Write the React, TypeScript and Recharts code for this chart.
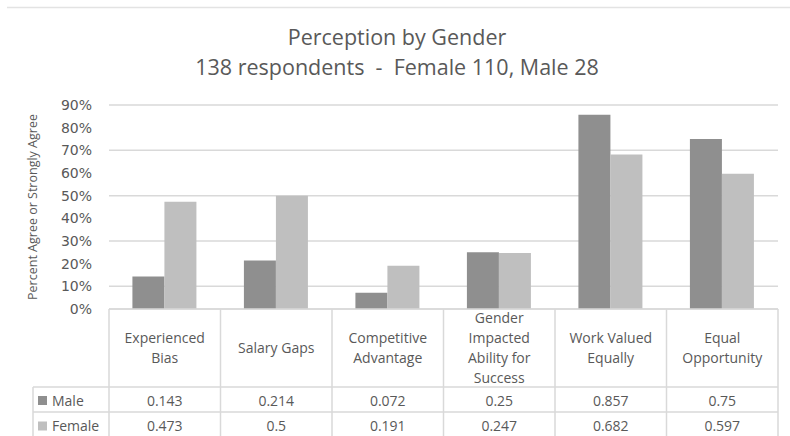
import React from "react";
import { BarChart, Bar, XAxis, YAxis, CartesianGrid } from "recharts";

const CATEGORIES = [
  "Experienced Bias",
  "Salary Gaps",
  "Competitive Advantage",
  "Gender Impacted Ability for Success",
  "Work Valued Equally",
  "Equal Opportunity",
];
const MALE = [0.143, 0.214, 0.072, 0.25, 0.857, 0.75];
const FEMALE = [0.473, 0.5, 0.191, 0.247, 0.682, 0.597];
const Y_TICKS = [0, 0.1, 0.2, 0.3, 0.4, 0.5, 0.6, 0.7, 0.8, 0.9];

const SERIES = [
  { key: "male", name: "Male", color: "#8f8f8f", values: MALE },
  { key: "female", name: "Female", color: "#bfbfbf", values: FEMALE },
];

const TITLE = "Perception by Gender";
const SUBTITLE = "138 respondents  -  Female 110, Male 28";
const Y_LABEL = "Percent Agree or Strongly Agree";

const data = CATEGORIES.map((name, i) => ({
  name,
  male: MALE[i],
  female: FEMALE[i],
}));

// layout
const W = 790;
const H = 436;
const PLOT_LEFT = 109;
const PLOT_RIGHT = 778;
const PLOT_TOP = 105;
const PLOT_BOTTOM = 309;
const BAND = (PLOT_RIGHT - PLOT_LEFT) / CATEGORIES.length;
const ROW1 = 387;
const ROW2 = 412;
const ROW_MID = [401, 426.5];
const LEGEND_LEFT = 33;
const HEADER_MID = 348;
const GRID = "#d9d9d9";
const TEXT = "#595959";
const FONT = "'Open Sans', sans-serif";

function wrap(text: string, max = 11) {
  const out: string[] = [];
  let cur = "";
  for (const w of text.split(" ")) {
    if (!cur) cur = w;
    else if ((cur + " " + w).length <= max) cur += " " + w;
    else {
      out.push(cur);
      cur = w;
    }
  }
  if (cur) out.push(cur);
  return out;
}

function TableTick(props: any) {
  const { x, payload, index } = props;
  const half = BAND / 2;
  const lines = wrap(String(payload.value));
  const lineH = 20;
  const y0 = HEADER_MID - ((lines.length - 1) * lineH) / 2;
  const left = x - half;
  const right = x + half;
  return (
    <g fontFamily={FONT} fontSize={14} fill={TEXT}>
      {index === 0 && (
        <g>
          <line x1={left} x2={left} y1={PLOT_BOTTOM} y2={H} stroke={GRID} strokeWidth={1.5} />
          <line x1={LEGEND_LEFT} x2={LEGEND_LEFT} y1={ROW1} y2={H} stroke={GRID} strokeWidth={1.5} />
          <line x1={LEGEND_LEFT} x2={left} y1={ROW1} y2={ROW1} stroke={GRID} strokeWidth={1.5} />
          <line x1={LEGEND_LEFT} x2={left} y1={ROW2} y2={ROW2} stroke={GRID} strokeWidth={1.5} />
          {SERIES.map((s, i) => (
            <g key={s.key}>
              <rect x={38} y={ROW_MID[i] - 5} width={9} height={9} fill={s.color} />
              <text x={52} y={ROW_MID[i]} dy="0.35em" textAnchor="start">
                {s.name}
              </text>
            </g>
          ))}
        </g>
      )}
      <line x1={right} x2={right} y1={PLOT_BOTTOM} y2={H} stroke={GRID} strokeWidth={1.5} />
      <line x1={left} x2={right} y1={ROW1} y2={ROW1} stroke={GRID} strokeWidth={1.5} />
      <line x1={left} x2={right} y1={ROW2} y2={ROW2} stroke={GRID} strokeWidth={1.5} />
      {lines.map((l, i) => (
        <text key={i} x={x} y={y0 + i * lineH} dy="0.35em" textAnchor="middle">
          {l}
        </text>
      ))}
      {SERIES.map((s, i) => (
        <text key={s.key} x={x} y={ROW_MID[i]} dy="0.35em" textAnchor="middle">
          {String(s.values[index])}
        </text>
      ))}
    </g>
  );
}

function YTitle() {
  const cy = (PLOT_TOP + PLOT_BOTTOM) / 2;
  return (
    <text
      transform={`translate(33,${cy}) rotate(-90)`}
      textAnchor="middle"
      dy="0.35em"
      fontFamily={FONT}
      fontSize={12.5}
      fill={TEXT}
    >
      {Y_LABEL}
    </text>
  );
}

export default function App() {
  return (
    <div
      style={{
        position: "fixed",
        left: 0,
        top: 0,
        width: W,
        height: H,
        background: "#fff",
        overflow: "hidden",
      }}
    >
      <svg width={W} height={100} style={{ position: "absolute", left: 0, top: 0 }}>
        <line x1={7} x2={W} y1={7.5} y2={7.5} stroke="#e3e3e3" strokeWidth={1.5} />
        <text x={397} y={45} textAnchor="middle" fontFamily={FONT} fontSize={21.5} fill={TEXT}>
          {TITLE}
        </text>
        <text
          x={397}
          y={75}
          textAnchor="middle"
          fontFamily={FONT}
          fontSize={21.5}
          fill={TEXT}
          style={{ whiteSpace: "pre" }}
        >
          {SUBTITLE}
        </text>
      </svg>
      <div style={{ position: "absolute", left: 0, top: 0 }}>
        <BarChart
          width={W}
          height={H}
          data={data}
          margin={{ top: PLOT_TOP, right: W - PLOT_RIGHT, bottom: 0, left: 0 }}
          barCategoryGap="21%"
          barGap={0}
        >
          <CartesianGrid vertical={false} stroke={GRID} strokeWidth={1.5} />
          <YAxis
            width={PLOT_LEFT}
            domain={[0, 0.9]}
            ticks={Y_TICKS}
            tickFormatter={(v: number) => `${Math.round(v * 100)}%`}
            axisLine={false}
            tickLine={false}
            tickSize={0}
            tickMargin={17}
            tick={{ fill: TEXT, fontSize: 14, fontFamily: "'DejaVu Sans', sans-serif" }}
            label={<YTitle />}
          />
          <XAxis
            dataKey="name"
            height={H - PLOT_BOTTOM}
            interval={0}
            tickLine={false}
            tickSize={0}
            tickMargin={0}
            axisLine={{ stroke: GRID, strokeWidth: 1.5 }}
            tick={<TableTick />}
          />
          {SERIES.map((s) => (
            <Bar key={s.key} dataKey={s.key} name={s.name} fill={s.color} isAnimationActive={false} />
          ))}
        </BarChart>
      </div>
    </div>
  );
}
